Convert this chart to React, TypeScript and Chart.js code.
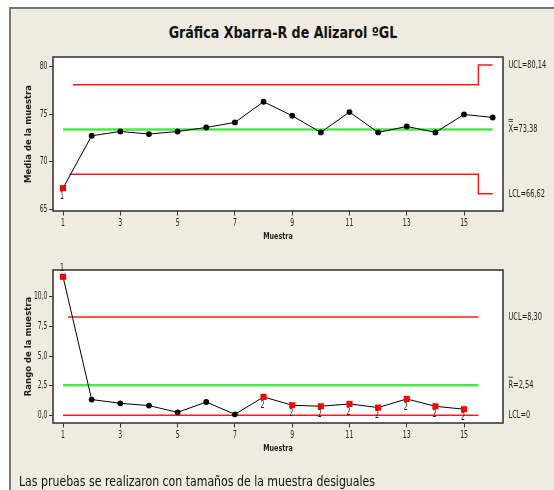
import React, { useEffect, useRef } from "react";
import { Chart, registerables } from "chart.js";
Chart.register(...registerables);

// ---------- data ----------
const sampleIds = [1, 2, 3, 4, 5, 6, 7, 8, 9, 10, 11, 12, 13, 14, 15, 16];
const xbarValues = [67.22, 72.72, 73.17, 72.9, 73.17, 73.59, 74.12, 76.29, 74.82, 73.07, 75.21, 73.07, 73.7, 73.07, 74.96, 74.64];
const rangeIds = [1, 2, 3, 4, 5, 6, 7, 8, 9, 10, 11, 12, 13, 14, 15];
const rangeValues = [11.69, 1.33, 1.01, 0.82, 0.25, 1.12, 0.08, 1.55, 0.85, 0.76, 0.96, 0.65, 1.38, 0.76, 0.51];

// control-limit step lines (sample position, value)
const xbarUclX = [1.35, 15.5, 15.5, 16];
const xbarUclY = [78.08, 78.08, 80.14, 80.14];
const xbarLclX = [1.22, 15.5, 15.5, 16];
const xbarLclY = [68.68, 68.68, 66.62, 66.62];
const xbarCenterX = [1, 16];
const xbarCenterY = [73.38, 73.38];
const rUclX = [1.17, 15.5];
const rUclY = [8.3, 8.3];
const rCenterX = [1, 15.5];
const rCenterY = [2.54, 2.54];
const rLclX = [1, 15.5];
const rLclY = [0, 0];

// test failures: index -> label
const xbarFlags: Record<number, string> = { 0: "1" };
const rangeFlags: Record<number, string> = { 0: "1", 7: "2", 8: "2", 9: "2", 10: "2", 11: "2", 12: "2", 13: "2", 14: "2" };

const xTickValues = [1, 3, 5, 7, 9, 11, 13, 15];
const xbarTickValues = [65, 70, 75, 80];
const rangeTickValues = [0, 2.5, 5, 7.5, 10];

const xbarLabels = { ucl: "UCL=80,14", center: "=73,38", lcl: "LCL=66,62" };
const rangeLabels = { ucl: "UCL=8,30", center: "=2,54", lcl: "LCL=0" };

const NARROW = '"DejaVu Sans Condensed", "Liberation Sans", sans-serif';
const TEXT = "#1e1e1e";
const SX = 0.72; // horizontal squeeze of the reference's text

const pts = (xs: number[], ys: number[]) => xs.map((x, i) => ({ x, y: ys[i] }));

function sText(ctx: CanvasRenderingContext2D, text: string, x: number, y: number, align: CanvasTextAlign, sx = SX) {
  ctx.save();
  ctx.translate(x, y);
  ctx.scale(sx, 1);
  ctx.textAlign = align;
  ctx.textBaseline = "middle";
  ctx.fillText(text, 0, 0);
  ctx.restore();
}

function makeConfig(kind: "xbar" | "range"): any {
  const isX = kind === "xbar";
  const ids = isX ? sampleIds : rangeIds;
  const vals = isX ? xbarValues : rangeValues;
  const flags = isX ? xbarFlags : rangeFlags;
  const styles = ids.map((_, i) => (flags[i] !== undefined ? "rect" : "circle"));
  const colors = ids.map((_, i) => (flags[i] !== undefined ? "#ff0000" : "#000000"));
  const radii = ids.map((_, i) => (flags[i] !== undefined ? 4.3 : 2.9));

  const limitDs = (xs: number[], ys: number[], color: string, w: number) => ({
    data: pts(xs, ys),
    borderColor: color,
    borderWidth: w,
    pointRadius: 0,
    fill: false,
    tension: 0,
  });

  const datasets = isX
    ? [
        limitDs(xbarUclX, xbarUclY, "#ff1a1a", 1.5),
        limitDs(xbarLclX, xbarLclY, "#ff1a1a", 1.5),
        limitDs(xbarCenterX, xbarCenterY, "#4ee64e", 2.5),
      ]
    : [
        limitDs(rUclX, rUclY, "#ff1a1a", 1.5),
        limitDs(rLclX, rLclY, "#ff1a1a", 1.5),
        limitDs(rCenterX, rCenterY, "#4ee64e", 2.5),
      ];

  const mainDs = {
    data: pts(ids, vals),
    borderColor: "#000",
    borderWidth: 1,
    pointStyle: styles,
    pointBackgroundColor: colors,
    pointBorderColor: colors,
    pointBorderWidth: 0,
    pointRadius: radii,
    fill: false,
    tension: 0,
  };

  const labels = isX ? xbarLabels : rangeLabels;
  const uclV = isX ? xbarUclY[3] : rUclY[0];
  const cV = isX ? xbarCenterY[0] : rCenterY[0];
  const lclV = isX ? xbarLclY[3] : rLclY[0];
  const yTicks = isX ? xbarTickValues : rangeTickValues;
  const fmtY = (v: number) => (isX ? String(v) : v.toFixed(1).replace(".", ","));

  const annot = {
    id: "annot" + kind,
    beforeDraw(chart: any) {
      const { ctx, chartArea: a } = chart;
      ctx.save();
      ctx.fillStyle = "#ffffff";
      ctx.fillRect(a.left, a.top, a.right - a.left, a.bottom - a.top);
      ctx.restore();
    },
    afterDraw(chart: any) {
      const { ctx, chartArea: a } = chart;
      const ys = chart.scales.y;
      const xs = chart.scales.x;
      ctx.save();
      ctx.strokeStyle = "#3a3a3a";
      ctx.lineWidth = 1.6;
      ctx.strokeRect(a.left, a.top, a.right - a.left, a.bottom - a.top);
      ctx.fillStyle = TEXT;

      // tick labels
      ctx.font = "10px " + NARROW;
      xTickValues.forEach((v) => sText(ctx, String(v), xs.getPixelForValue(v), a.bottom + 12.5, "center", 0.68));
      yTicks.forEach((v) => sText(ctx, fmtY(v), a.left - 5.5, ys.getPixelForValue(v), "right", 0.68));

      // x axis title
      ctx.font = "bold 9.5px " + NARROW;
      sText(ctx, "Muestra", (a.left + a.right) / 2, a.bottom + 26, "center", 0.75);

      // right labels
      ctx.font = "10.5px " + NARROW;
      const lx = 508.5;
      sText(ctx, labels.ucl, lx, ys.getPixelForValue(uclV), "left", 0.7);
      const cy = ys.getPixelForValue(cV);
      const letter = isX ? "X" : "R";
      const lw = ctx.measureText(letter).width * 0.7;
      sText(ctx, letter + labels.center, lx, cy, "left", 0.7);
      ctx.strokeStyle = TEXT;
      ctx.lineWidth = 0.8;
      ctx.beginPath();
      ctx.moveTo(lx, cy - 8);
      ctx.lineTo(lx + lw, cy - 8);
      if (isX) {
        ctx.moveTo(lx, cy - 10);
        ctx.lineTo(lx + lw, cy - 10);
      }
      ctx.stroke();
      sText(ctx, labels.lcl, lx, ys.getPixelForValue(lclV), "left", 0.7);

      // failure labels
      ctx.font = "10px " + NARROW;
      const meta = chart.getDatasetMeta(0);
      Object.keys(flags).forEach((k) => {
        const i = Number(k);
        const el = meta.data[i];
        if (!el) return;
        const above = !isX && i === 0;
        sText(ctx, flags[i], el.x - 1, above ? el.y - 8 : el.y + 8, "center", 0.7);
      });
      ctx.restore();
    },
  };

  return {
    type: "line",
    data: { datasets: [mainDs, ...datasets] },
    plugins: [annot],
    options: {
      animation: false,
      responsive: false,
      devicePixelRatio: 1,
      clip: false,
      layout: { padding: isX ? { top: 57, right: 51, bottom: 0, left: 0 } : { top: 25, right: 51, bottom: 33, left: 0 } },
      plugins: { legend: { display: false }, tooltip: { enabled: false }, title: { display: false } },
      scales: {
        x: {
          type: "linear",
          min: 0.65,
          max: 16.36,
          afterBuildTicks: (s: any) => {
            s.ticks = xTickValues.map((v) => ({ value: v }));
          },
          afterFit: (s: any) => {
            s.height = 34;
          },
          border: { display: false },
          grid: { display: true, drawOnChartArea: false, drawTicks: true, tickLength: 4.5, color: "#333", lineWidth: 1 },
          ticks: { display: false, autoSkip: false, maxRotation: 0 },
          title: { display: false },
        },
        y: {
          type: "linear",
          min: isX ? 64.82 : -0.65,
          max: isX ? 80.99 : 12.26,
          afterBuildTicks: (s: any) => {
            s.ticks = yTicks.map((v) => ({ value: v }));
          },
          afterFit: (s: any) => {
            s.width = 53;
          },
          border: { display: false },
          grid: { display: true, drawOnChartArea: false, drawTicks: true, tickLength: 4, color: "#333", lineWidth: 1 },
          ticks: { display: false },
          title: {
            display: true,
            text: isX ? "Media de la muestra" : "Rango de la muestra",
            color: TEXT,
            font: { family: '"DejaVu Sans", sans-serif', size: 8.5, weight: "bold" },
            padding: { top: 24, bottom: 0 },
          },
        },
      },
    },
  };
}

function ChartCanvas({ kind, top }: { kind: "xbar" | "range"; top: number }) {
  const ref = useRef<HTMLCanvasElement | null>(null);
  useEffect(() => {
    if (!ref.current) return;
    const chart = new Chart(ref.current, makeConfig(kind));
    return () => chart.destroy();
  }, [kind]);
  return <canvas ref={ref} width={554} height={245} style={{ position: "absolute", left: 0, top, width: 554, height: 245 }} />;
}

export default function App() {
  return (
    <div style={{ position: "fixed", left: 0, top: 0, width: 554, height: 490, overflow: "hidden", background: "#ffffff" }}>
      <div
        style={{
          position: "absolute",
          left: 9,
          top: 7,
          width: 600,
          height: 600,
          background: "#efebe1",
          borderLeft: "2px solid #777",
          borderTop: "2px solid #777",
        }}
      />
      <div
        style={{
          position: "absolute",
          left: 283,
          top: 23,
          transform: "translateX(-50%) scaleX(0.88)",
          whiteSpace: "nowrap",
          font: "bold 16px " + NARROW,
          lineHeight: "20px",
          color: "#111",
        }}
      >
        Gráfica Xbarra-R de Alizarol ºGL
      </div>
      <ChartCanvas kind="xbar" top={0} />
      <ChartCanvas kind="range" top={245} />
      <div
        style={{
          position: "absolute",
          left: 19,
          top: 473,
          whiteSpace: "nowrap",
          font: "14px " + NARROW,
          lineHeight: "17px",
          color: "#111",
          transform: "scaleX(0.87)",
          transformOrigin: "0 0",
        }}
      >
        Las pruebas se realizaron con tamaños de la muestra desiguales
      </div>
    </div>
  );
}
